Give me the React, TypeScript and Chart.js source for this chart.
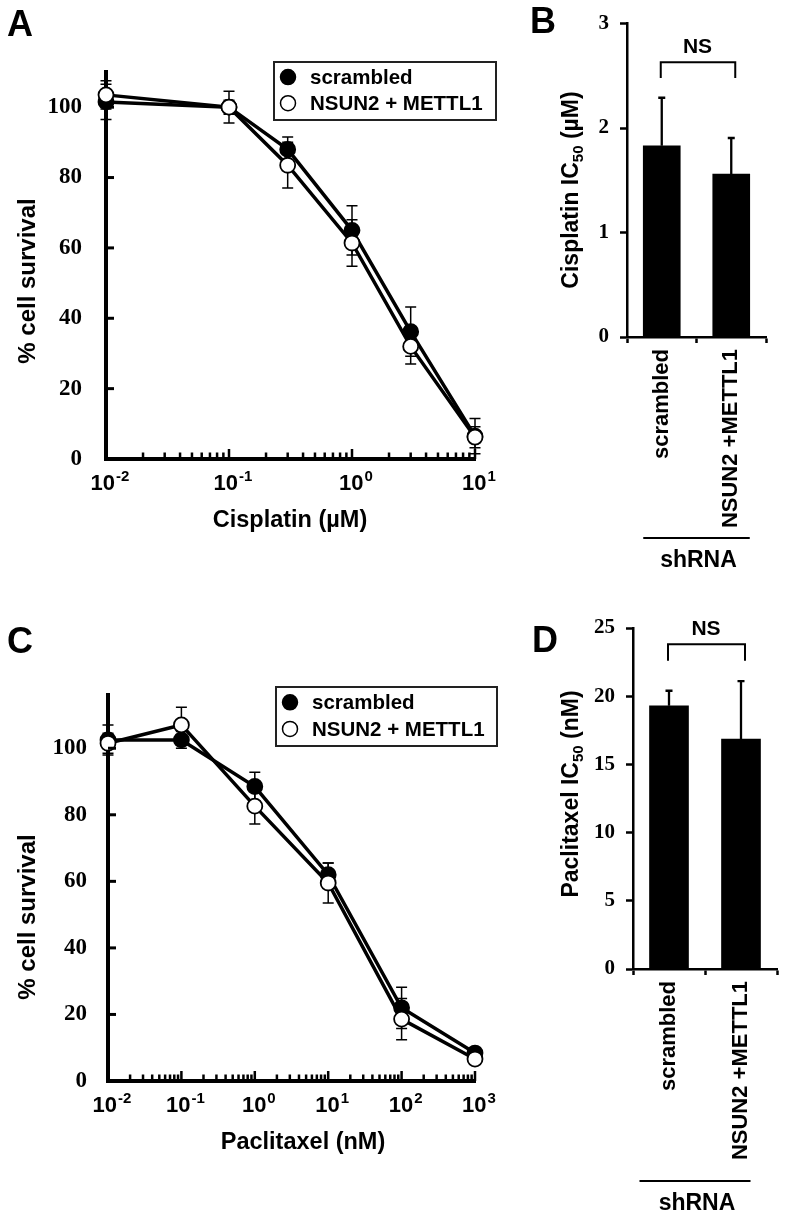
import React, { useEffect, useRef } from 'react';
import { Chart, registerables } from 'chart.js';

Chart.register(...registerables);

const SANS = '"Liberation Sans", Arial, Helvetica, sans-serif';
const SERIF = '"Liberation Serif", "Times New Roman", Times, serif';

// ---------- Panel A: cisplatin dose response (% cell survival) ----------
const cisplatinDoses = [0.01, 0.1, 0.3, 1, 3, 10];
const cisScrambled = [101.5, 100, 88, 65, 36.2, 6.5];
const cisScrambledErr = [5, 2, 3.5, 7, 7, 5];
const cisNsun = [103.5, 100, 83.5, 61.4, 32, 6.2];
const cisNsunErr = [4, 4.5, 6.5, 6.6, 5, 3];
const cisDecades = [0.01, 0.1, 1, 10];
const cisExponents = ['-2', '-1', '0', '1'];

// ---------- Panel C: paclitaxel dose response ----------
const paclitaxelDoses = [0.01, 0.1, 1, 10, 100, 1000];
const pacScrambled = [102.5, 102.5, 88.5, 62, 22, 8.4];
const pacScrambledErr = [4.5, 2.5, 4.3, 3.5, 6.2, 1.5];
const pacNsun = [101.5, 107, 82.6, 59.5, 18.6, 6.6];
const pacNsunErr = [3, 5.3, 5.4, 6, 6.2, 1.5];
const pacDecades = [0.01, 0.1, 1, 10, 100, 1000];
const pacExponents = ['-2', '-1', '0', '1', '2', '3'];

const survivalTicks = [0, 20, 40, 60, 80, 100];
const seriesNames = ['scrambled', 'NSUN2 + METTL1'];

// ---------- Panels B / D: IC50 bars ----------
const shrnaGroups = ['scrambled', 'NSUN2 +METTL1'];
const cisIC50 = [1.83, 1.56];
const cisIC50Err = [0.46, 0.345];
const cisBracket = [2.63, 2.48];
const pacIC50 = [19.3, 16.85];
const pacIC50Err = [1.1, 4.25];
const pacBracket = [23.8, 22.6];

function sansFont(size: number) {
  return `bold ${size}px ${SANS}`;
}

type Seg = { text: string; size: number; dy?: number };

function drawSegments(ctx: any, segs: Seg[], cx: number, cy: number, rotated: boolean) {
  ctx.save();
  ctx.translate(cx, cy);
  if (rotated) ctx.rotate(-Math.PI / 2);
  ctx.fillStyle = '#000';
  ctx.textAlign = 'left';
  ctx.textBaseline = 'alphabetic';
  let total = 0;
  const widths = segs.map((s) => {
    ctx.font = sansFont(s.size);
    const w = ctx.measureText(s.text).width;
    total += w;
    return w;
  });
  let x = -total / 2;
  const base = segs[0].size * 0.36;
  segs.forEach((s, i) => {
    ctx.font = sansFont(s.size);
    ctx.fillText(s.text, x, base + (s.dy || 0));
    x += widths[i];
  });
  ctx.restore();
}

function drawLetter(ctx: any, letter: string, x: number, y: number) {
  ctx.save();
  ctx.fillStyle = '#000';
  ctx.font = sansFont(36);
  ctx.textAlign = 'left';
  ctx.textBaseline = 'alphabetic';
  ctx.fillText(letter, x, y);
  ctx.restore();
}

function dosePlugin(o: any) {
  return {
    id: 'dose-decor',
    beforeDatasetsDraw(chart: any) {
      const { ctx } = chart;
      const xs = chart.scales.x;
      const ys = chart.scales.y;
      ctx.save();
      ctx.strokeStyle = '#000';
      ctx.lineWidth = 1.5;
      [
        [o.scr, o.scrErr],
        [o.nsun, o.nsunErr],
      ].forEach(([vals, errs]: any) => {
        o.doses.forEach((d: number, i: number) => {
          const px = xs.getPixelForValue(d);
          const top = ys.getPixelForValue(vals[i] + errs[i]);
          const bot = ys.getPixelForValue(vals[i] - errs[i]);
          ctx.beginPath();
          ctx.moveTo(px, top);
          ctx.lineTo(px, bot);
          ctx.moveTo(px - 5.5, top);
          ctx.lineTo(px + 5.5, top);
          ctx.moveTo(px - 5.5, bot);
          ctx.lineTo(px + 5.5, bot);
          ctx.stroke();
        });
      });
      ctx.restore();
    },
    afterDraw(chart: any) {
      const { ctx, chartArea: ca } = chart;
      const xs = chart.scales.x;
      const ys = chart.scales.y;
      ctx.save();
      ctx.strokeStyle = '#000';
      // minor / major log ticks drawn inward
      ctx.lineWidth = 2.5;
      for (let k = 0; k < o.decades.length - 1; k++) {
        for (let m = 2; m <= 10; m++) {
          const px = xs.getPixelForValue(o.decades[k] * m);
          const len = m === 10 ? 10 : 6.5;
          ctx.beginPath();
          ctx.moveTo(px, ca.bottom);
          ctx.lineTo(px, ca.bottom - len);
          ctx.stroke();
        }
      }
      // y inward ticks
      ctx.lineWidth = 3;
      survivalTicks.forEach((v) => {
        if (v === 0) return;
        const py = ys.getPixelForValue(v);
        ctx.beginPath();
        ctx.moveTo(ca.left, py);
        ctx.lineTo(ca.left + 8, py);
        ctx.stroke();
      });
      // decade labels 10^n
      ctx.fillStyle = '#000';
      ctx.textAlign = 'left';
      ctx.textBaseline = 'alphabetic';
      o.decades.forEach((d: number, k: number) => {
        const px = xs.getPixelForValue(d);
        ctx.font = sansFont(22);
        const w1 = ctx.measureText('10').width;
        ctx.font = sansFont(15);
        const w2 = ctx.measureText(o.exps[k]).width;
        const x0 = px - (w1 + w2 + 1) / 2 + 4;
        ctx.font = sansFont(22);
        ctx.fillText('10', x0, ca.bottom + 31);
        ctx.font = sansFont(15);
        ctx.fillText(o.exps[k], x0 + w1 + 1, ca.bottom + 22);
      });
      // legend
      const [lx, ly, lw, lh] = o.legendBox;
      ctx.strokeStyle = '#222';
      ctx.lineWidth = 2;
      ctx.strokeRect(lx, ly, lw, lh);
      const rows = [ly + lh * 0.26, ly + lh * 0.71];
      seriesNames.forEach((name, i) => {
        ctx.beginPath();
        ctx.arc(lx + 14, rows[i], 7.5, 0, Math.PI * 2);
        ctx.fillStyle = i === 0 ? '#000' : '#fff';
        ctx.fill();
        ctx.lineWidth = 1.5;
        ctx.strokeStyle = '#000';
        ctx.stroke();
        ctx.fillStyle = '#000';
        ctx.font = sansFont(20.5);
        ctx.textBaseline = 'middle';
        ctx.fillText(name, lx + 36, rows[i] + 1);
      });
      ctx.restore();
      // titles
      drawSegments(ctx, [{ text: o.xTitle, size: 23.5 }], o.xTitleX, ca.bottom + 60, false);
      drawSegments(ctx, [{ text: '% cell survival', size: 24 }], o.yTitlePos[0], o.yTitlePos[1], true);
      drawLetter(ctx, o.letter, o.letterPos[0], o.letterPos[1]);
    },
  };
}

function doseConfig(o: any) {
  const mk = (ys: number[]) => o.doses.map((d: number, i: number) => ({ x: d, y: ys[i] }));
  const common = {
    borderColor: '#000',
    borderWidth: 3.5,
    pointRadius: 7.5,
    pointBorderColor: '#000',
    pointBorderWidth: 1.8,
    clip: false,
    tension: 0,
  };
  return {
    type: 'line',
    data: {
      datasets: [
        { ...common, label: seriesNames[1], data: mk(o.nsun), pointBackgroundColor: '#fff' },
        { ...common, label: seriesNames[0], data: mk(o.scr), pointBackgroundColor: '#000' },
      ],
    },
    options: {
      animation: false,
      responsive: false,
      maintainAspectRatio: false,
      layout: { padding: { top: o.padTop, right: o.padRight, bottom: 0, left: 0 } },
      plugins: { legend: { display: false }, tooltip: { enabled: false } },
      scales: {
        x: {
          type: 'logarithmic',
          min: o.decades[0],
          max: o.decades[o.decades.length - 1],
          ticks: { display: false },
          grid: { display: false, drawTicks: false },
          border: { display: true, width: 4, color: '#000' },
          afterFit: (s: any) => {
            s.height = o.xHeight;
          },
        },
        y: {
          type: 'linear',
          min: 0,
          max: o.yMax,
          afterBuildTicks: (s: any) => {
            s.ticks = survivalTicks.map((v) => ({ value: v }));
          },
          ticks: {
            color: '#000',
            padding: o.yPad,
            font: { family: SERIF, weight: 'bold', size: 23 },
          },
          grid: { display: false, drawTicks: false },
          border: { display: true, width: 4, color: '#000' },
          afterFit: (s: any) => {
            s.width = o.yWidth;
          },
        },
      },
    },
    plugins: [dosePlugin(o)],
  };
}

function icPlugin(o: any) {
  return {
    id: 'ic-decor',
    afterDatasetsDraw(chart: any) {
      const { ctx } = chart;
      const ys = chart.scales.y;
      const meta = chart.getDatasetMeta(0);
      ctx.save();
      ctx.strokeStyle = '#000';
      ctx.lineWidth = 2.3;
      meta.data.forEach((bar: any, i: number) => {
        const top = ys.getPixelForValue(o.values[i] + o.errs[i]);
        ctx.beginPath();
        ctx.moveTo(bar.x, bar.y);
        ctx.lineTo(bar.x, top);
        ctx.moveTo(bar.x - 3.5, top);
        ctx.lineTo(bar.x + 3.5, top);
        ctx.stroke();
      });
      const b0 = meta.data[0];
      const b1 = meta.data[1];
      const yb = ys.getPixelForValue(o.bracket[0]);
      const yl = ys.getPixelForValue(o.bracket[1]);
      ctx.lineWidth = 2;
      ctx.beginPath();
      ctx.moveTo(b0.x - 1, yl);
      ctx.lineTo(b0.x - 1, yb);
      ctx.lineTo(b1.x + 4, yb);
      ctx.lineTo(b1.x + 4, yl);
      ctx.stroke();
      ctx.fillStyle = '#000';
      ctx.font = sansFont(21);
      ctx.textAlign = 'center';
      ctx.textBaseline = 'middle';
      ctx.fillText('NS', (b0.x + b1.x) / 2 + 1, yb - 15);
      // shRNA group line
      const lx0 = b0.x - b0.width / 2 + o.lineShift;
      const lx1 = b1.x + b1.width / 2 + o.lineShift;
      ctx.lineWidth = 2;
      ctx.beginPath();
      ctx.moveTo(lx0, o.groupLineY);
      ctx.lineTo(lx1, o.groupLineY);
      ctx.stroke();
      ctx.font = sansFont(23);
      ctx.fillText('shRNA', (lx0 + lx1) / 2 + 2, o.groupLineY + 23);
      ctx.restore();
      drawSegments(
        ctx,
        [
          { text: o.drug + ' IC', size: 23 },
          { text: '50', size: 15, dy: 5 },
          { text: ' ' + o.unit, size: 23 },
        ],
        o.yTitlePos[0],
        o.yTitlePos[1],
        true
      );
      drawLetter(ctx, o.letter, o.letterPos[0], o.letterPos[1]);
    },
  };
}

function icConfig(o: any) {
  return {
    type: 'bar',
    data: {
      labels: shrnaGroups,
      datasets: [{ data: o.values, backgroundColor: '#000', borderWidth: 0, barThickness: o.barW }],
    },
    options: {
      animation: false,
      responsive: false,
      maintainAspectRatio: false,
      layout: { padding: { top: o.padTop, right: o.padRight, bottom: 0, left: 0 } },
      plugins: { legend: { display: false }, tooltip: { enabled: false } },
      scales: {
        x: {
          ticks: {
            minRotation: 90,
            maxRotation: 90,
            autoSkip: false,
            padding: 6,
            color: '#000',
            font: { family: SANS, weight: 'bold', size: 22 },
          },
          grid: {
            display: true,
            drawOnChartArea: false,
            drawTicks: true,
            tickLength: 6,
            tickWidth: 2.5,
            tickColor: '#000',
            offset: true,
          },
          border: { display: true, width: 2.5, color: '#000' },
          afterFit: (s: any) => {
            s.height = o.xHeight;
          },
        },
        y: {
          min: 0,
          max: o.yMax,
          ticks: {
            stepSize: o.step,
            color: '#000',
            padding: 11,
            font: { family: SERIF, weight: 'bold', size: 21 },
          },
          grid: { drawOnChartArea: false, drawTicks: true, tickLength: 7, tickWidth: 2.5, tickColor: '#000' },
          border: { display: true, width: 2.5, color: '#000' },
          afterFit: (s: any) => {
            s.width = o.yWidth;
          },
        },
      },
    },
    plugins: [icPlugin(o)],
  };
}

const panelA = () =>
  doseConfig({
    doses: cisplatinDoses,
    scr: cisScrambled,
    scrErr: cisScrambledErr,
    nsun: cisNsun,
    nsunErr: cisNsunErr,
    decades: cisDecades,
    exps: cisExponents,
    yMax: 110,
    padTop: 72,
    padRight: 30,
    yWidth: 106,
    xHeight: 101,
    yPad: 24,
    xTitle: 'Cisplatin (µM)',
    xTitleX: 290,
    yTitlePos: [26, 281],
    legendBox: [274, 62, 222, 58],
    letter: 'A',
    letterPos: [7, 36],
  });

const panelC = () =>
  doseConfig({
    doses: paclitaxelDoses,
    scr: pacScrambled,
    scrErr: pacScrambledErr,
    nsun: pacNsun,
    nsunErr: pacNsunErr,
    decades: pacDecades,
    exps: pacExponents,
    yMax: 116,
    padTop: 95,
    padRight: 30,
    yWidth: 108,
    xHeight: 139,
    yPad: 21,
    xTitle: 'Paclitaxel (nM)',
    xTitleX: 303,
    yTitlePos: [26, 317],
    legendBox: [276, 87, 221, 59],
    letter: 'C',
    letterPos: [7, 53],
  });

const panelB = () =>
  icConfig({
    values: cisIC50,
    errs: cisIC50Err,
    bracket: cisBracket,
    yMax: 3,
    step: 1,
    barW: 37,
    padTop: 15,
    padRight: 22,
    yWidth: 122,
    xHeight: 263,
    drug: 'Cisplatin',
    unit: '(µM)',
    yTitlePos: [65, 190],
    groupLineY: 538,
    lineShift: 0,
    letter: 'B',
    letterPos: [25, 33],
  });

const panelD = () =>
  icConfig({
    values: pacIC50,
    errs: pacIC50Err,
    bracket: pacBracket,
    yMax: 25,
    step: 5,
    barW: 39,
    padTop: 28,
    padRight: 11,
    yWidth: 128,
    xHeight: 251,
    drug: 'Paclitaxel',
    unit: '(nM)',
    yTitlePos: [65, 194],
    groupLineY: 581,
    lineShift: -10,
    letter: 'D',
    letterPos: [27, 52],
  });

function Panel({ left, top, width, height, make }: any) {
  const ref = useRef<HTMLCanvasElement>(null);
  useEffect(() => {
    const chart = new Chart(ref.current as HTMLCanvasElement, make());
    return () => chart.destroy();
  }, [make]);
  return (
    <canvas
      ref={ref}
      width={width}
      height={height}
      style={{ position: 'absolute', left, top, width, height }}
    />
  );
}

export default function App() {
  return (
    <div style={{ position: 'absolute', left: 0, top: 0, width: 788, height: 1220, background: '#fff' }}>
      <Panel left={0} top={0} width={505} height={560} make={panelA} />
      <Panel left={505} top={0} width={283} height={600} make={panelB} />
      <Panel left={0} top={600} width={505} height={620} make={panelC} />
      <Panel left={505} top={600} width={283} height={620} make={panelD} />
    </div>
  );
}
